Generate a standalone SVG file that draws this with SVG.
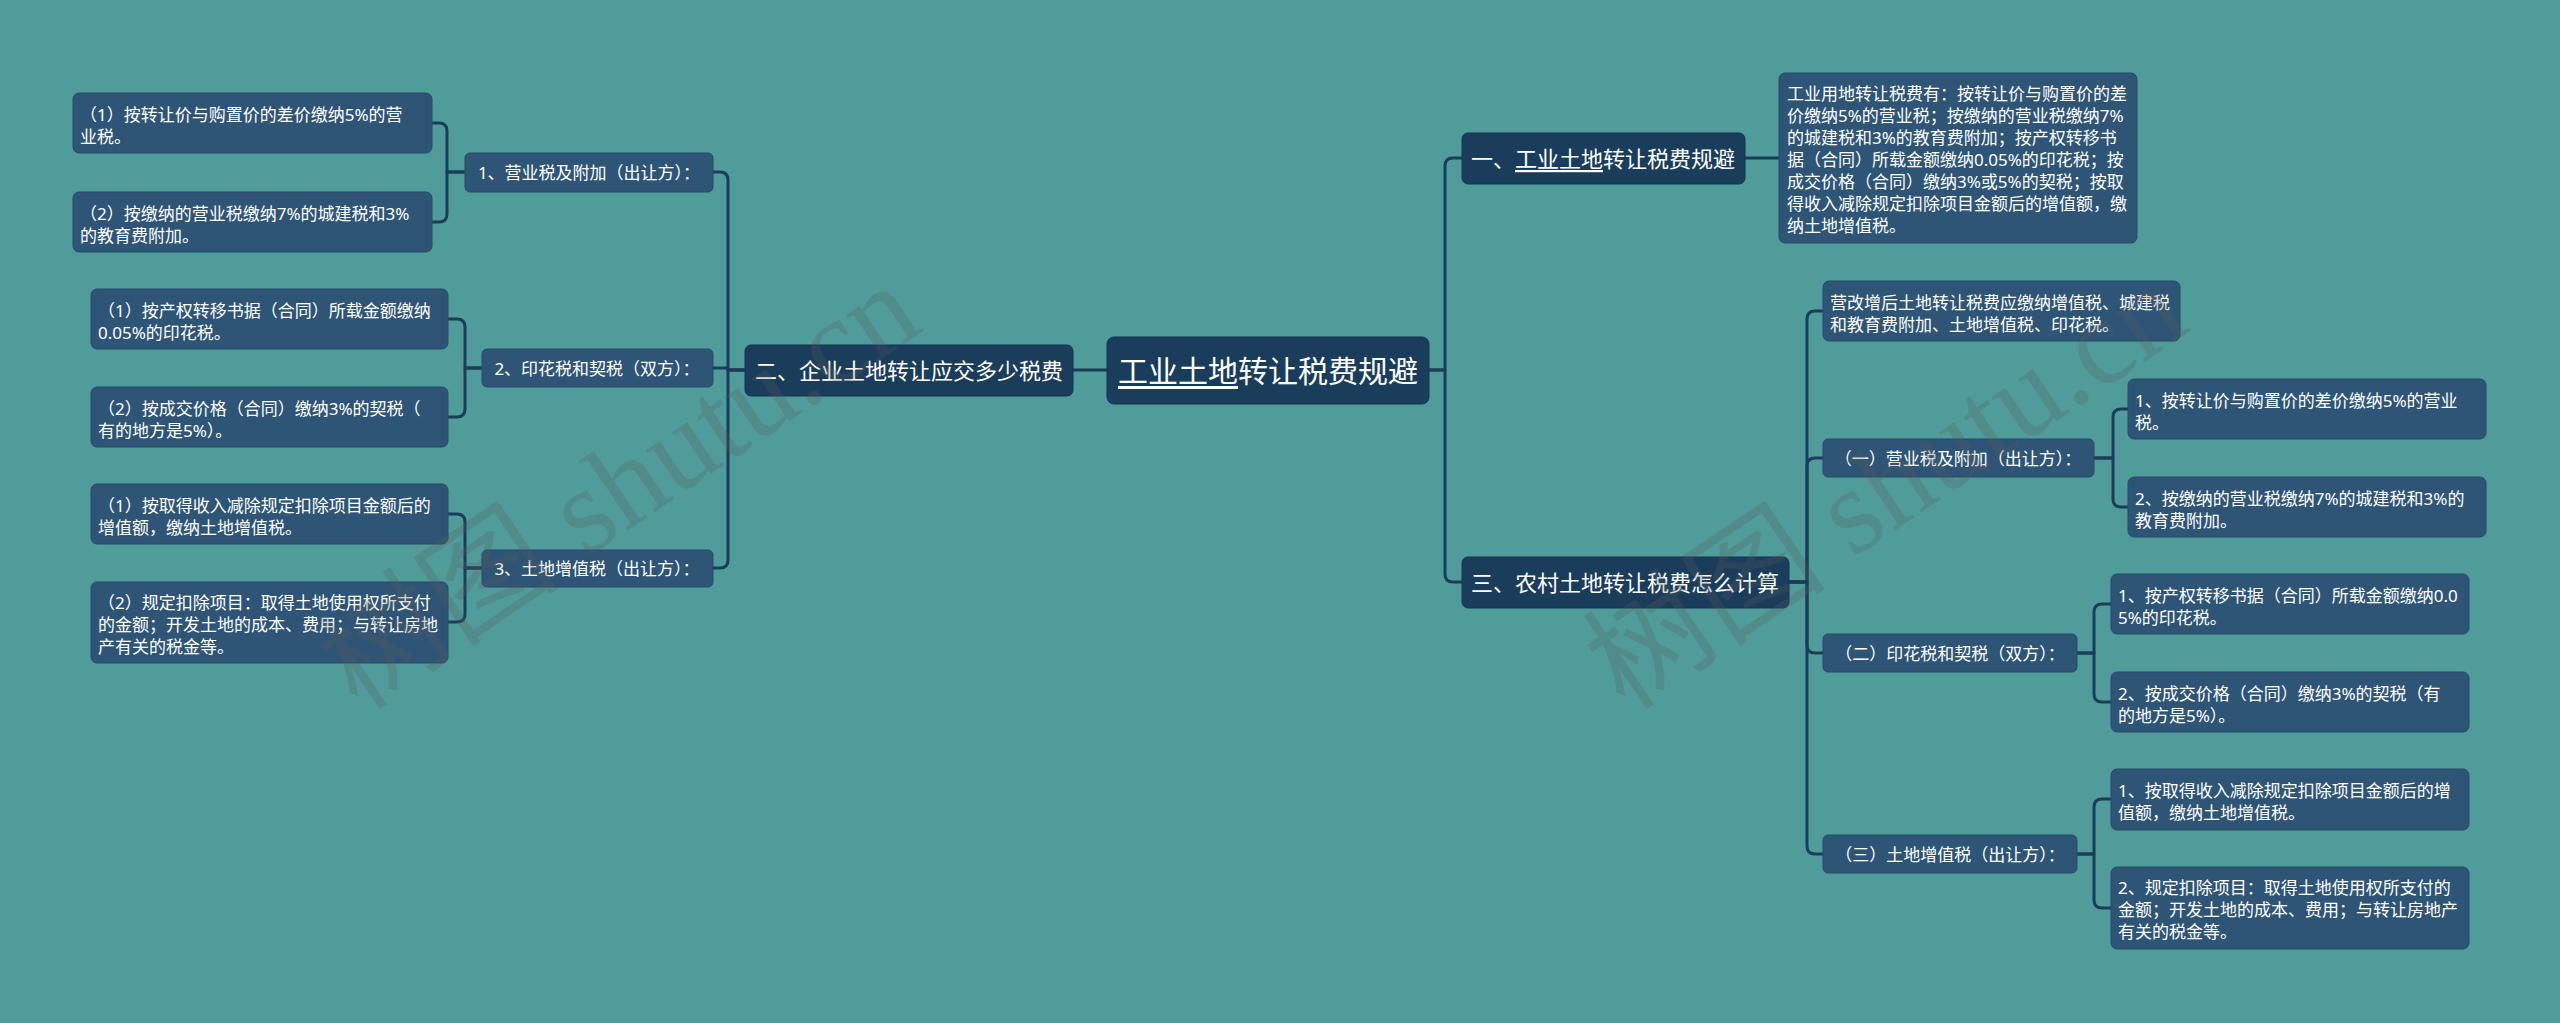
<svg xmlns="http://www.w3.org/2000/svg" width="2560" height="1023" viewBox="0 0 2560 1023">
<style>
.bg{fill:#4f9c9b}
.n0{fill:#1b3d5c;stroke:#173450;stroke-width:1}
.n1{fill:#1b3d5c;stroke:#173450;stroke-width:1}
.n2{fill:#2e5575;stroke:#284b69;stroke-width:1}
.t{font-family:"Noto Sans","Noto Sans CJK SC",sans-serif;fill:#ffffff}
.t0{font-size:30px}
.t1{font-size:22px}
.t2{font-size:17px}
.c{text-anchor:middle;dominant-baseline:central}
.u{text-decoration:underline}
.ln{fill:none;stroke:#1c3d59;stroke-width:3;stroke-linecap:round;stroke-linejoin:round}
.wm{font-family:"Liberation Serif","Noto Sans CJK SC",serif;font-size:122px;fill:#5a5a5a;opacity:0.25}
</style>
<rect class="bg" x="0" y="0" width="2560" height="1023"/>

<g id="connectors">
<path class="ln" d="M465,172 H447 V131 Q447,123 439,123 H432"/>
<path class="ln" d="M465,172 H447 V214 Q447,222 439,222 H432"/>
<path class="ln" d="M482,368 H465 V327 Q465,319 457,319 H448"/>
<path class="ln" d="M482,368 H465 V409 Q465,417 457,417 H448"/>
<path class="ln" d="M482,568 H465 V522 Q465,514 457,514 H448"/>
<path class="ln" d="M482,568 H465 V614 Q465,622 457,622 H448"/>
<path class="ln" d="M745,370 H728 V180 Q728,172 720,172 H713"/>
<path class="ln" d="M745,370 H728 V368 H713"/>
<path class="ln" d="M745,370 H728 V560 Q728,568 720,568 H713"/>
<path class="ln" d="M1073,370 H1107"/>
<path class="ln" d="M1429,370 H1445 V166 Q1445,158 1453,158 H1462"/>
<path class="ln" d="M1429,370 H1445 V574 Q1445,582 1453,582 H1462"/>
<path class="ln" d="M1745,158 H1779"/>
<path class="ln" d="M1789,582 H1807 V319 Q1807,311 1815,311 H1823"/>
<path class="ln" d="M1789,582 H1807 V466 Q1807,458 1815,458 H1823"/>
<path class="ln" d="M1789,582 H1807 V645 Q1807,653 1815,653 H1823"/>
<path class="ln" d="M1789,582 H1807 V846 Q1807,854 1815,854 H1823"/>
<path class="ln" d="M2094,458 H2113 V417 Q2113,409 2121,409 H2128"/>
<path class="ln" d="M2094,458 H2113 V499 Q2113,507 2121,507 H2128"/>
<path class="ln" d="M2077,653 H2094 V612 Q2094,604 2102,604 H2111"/>
<path class="ln" d="M2077,653 H2094 V694 Q2094,702 2102,702 H2111"/>
<path class="ln" d="M2077,854 H2094 V807 Q2094,799 2102,799 H2111"/>
<path class="ln" d="M2077,854 H2094 V900 Q2094,908 2102,908 H2111"/>
</g>

<g id="root">
<rect class="n0" x="1107" y="337" width="322" height="67" rx="7"/>
<text class="t t0 c" x="1268" y="370"><tspan class="u">工业土地</tspan>转让税费规避</text>
</g>

<g id="n-two">
<rect class="n1" x="745" y="345" width="328" height="51" rx="6"/>
<text class="t t1 c" x="909" y="370">二、企业土地转让应交多少税费</text>
</g>

<g id="n-2-1">
<rect class="n2" x="465" y="153" width="248" height="39" rx="5"/>
<text class="t t2 c" x="589" y="172">1、营业税及附加（出让方）：</text>
</g>
<g id="n-2-1-1">
<rect class="n2" x="73" y="93" width="359" height="60" rx="6"/>
<text class="t t2" x="80" y="121">（1）按转让价与购置价的差价缴纳5%的营</text>
<text class="t t2" x="80" y="143">业税。</text>
</g>
<g id="n-2-1-2">
<rect class="n2" x="73" y="192" width="359" height="60" rx="6"/>
<text class="t t2" x="80" y="220">（2）按缴纳的营业税缴纳7%的城建税和3%</text>
<text class="t t2" x="80" y="242">的教育费附加。</text>
</g>

<g id="n-2-2">
<rect class="n2" x="482" y="349" width="231" height="38" rx="5"/>
<text class="t t2 c" x="597" y="368">2、印花税和契税（双方）：</text>
</g>
<g id="n-2-2-1">
<rect class="n2" x="91" y="289" width="357" height="60" rx="6"/>
<text class="t t2" x="98" y="317">（1）按产权转移书据（合同）所载金额缴纳</text>
<text class="t t2" x="98" y="339">0.05%的印花税。</text>
</g>
<g id="n-2-2-2">
<rect class="n2" x="91" y="387" width="357" height="60" rx="6"/>
<text class="t t2" x="98" y="415">（2）按成交价格（合同）缴纳3%的契税（</text>
<text class="t t2" x="98" y="437">有的地方是5%）。</text>
</g>

<g id="n-2-3">
<rect class="n2" x="482" y="550" width="231" height="37" rx="5"/>
<text class="t t2 c" x="597" y="568">3、土地增值税（出让方）：</text>
</g>
<g id="n-2-3-1">
<rect class="n2" x="91" y="484" width="357" height="60" rx="6"/>
<text class="t t2" x="98" y="512">（1）按取得收入减除规定扣除项目金额后的</text>
<text class="t t2" x="98" y="534">增值额，缴纳土地增值税。</text>
</g>
<g id="n-2-3-2">
<rect class="n2" x="91" y="582" width="357" height="81" rx="6"/>
<text class="t t2" x="98" y="609">（2）规定扣除项目：取得土地使用权所支付</text>
<text class="t t2" x="98" y="631">的金额；开发土地的成本、费用；与转让房地</text>
<text class="t t2" x="98" y="653">产有关的税金等。</text>
</g>

<g id="n-one">
<rect class="n1" x="1462" y="133" width="283" height="51" rx="6"/>
<text class="t t1 c" x="1603" y="158">一、<tspan class="u">工业土地</tspan>转让税费规避</text>
</g>
<g id="n-one-1">
<rect class="n2" x="1779" y="73" width="358" height="170" rx="6"/>
<text class="t t2" x="1787" y="100">工业用地转让税费有：按转让价与购置价的差</text>
<text class="t t2" x="1787" y="122">价缴纳5%的营业税；按缴纳的营业税缴纳7%</text>
<text class="t t2" x="1787" y="144">的城建税和3%的教育费附加；按产权转移书</text>
<text class="t t2" x="1787" y="166">据（合同）所载金额缴纳0.05%的印花税；按</text>
<text class="t t2" x="1787" y="188">成交价格（合同）缴纳3%或5%的契税；按取</text>
<text class="t t2" x="1787" y="210">得收入减除规定扣除项目金额后的增值额，缴</text>
<text class="t t2" x="1787" y="232">纳土地增值税。</text>
</g>

<g id="n-three">
<rect class="n1" x="1462" y="557" width="327" height="51" rx="6"/>
<text class="t t1 c" x="1625" y="582">三、农村土地转让税费怎么计算</text>
</g>
<g id="n-three-0">
<rect class="n2" x="1823" y="281" width="357" height="60" rx="6"/>
<text class="t t2" x="1830" y="309">营改增后土地转让税费应缴纳增值税、城建税</text>
<text class="t t2" x="1830" y="331">和教育费附加、土地增值税、印花税。</text>
</g>
<g id="n-three-1">
<rect class="n2" x="1823" y="439" width="271" height="38" rx="5"/>
<text class="t t2 c" x="1958" y="458">（一）营业税及附加（出让方）：</text>
</g>
<g id="n-three-1-1">
<rect class="n2" x="2128" y="379" width="358" height="60" rx="6"/>
<text class="t t2" x="2135" y="407">1、按转让价与购置价的差价缴纳5%的营业</text>
<text class="t t2" x="2135" y="429">税。</text>
</g>
<g id="n-three-1-2">
<rect class="n2" x="2128" y="477" width="358" height="60" rx="6"/>
<text class="t t2" x="2135" y="505">2、按缴纳的营业税缴纳7%的城建税和3%的</text>
<text class="t t2" x="2135" y="527">教育费附加。</text>
</g>
<g id="n-three-2">
<rect class="n2" x="1823" y="634" width="254" height="38" rx="5"/>
<text class="t t2 c" x="1950" y="653">（二）印花税和契税（双方）：</text>
</g>
<g id="n-three-2-1">
<rect class="n2" x="2111" y="574" width="358" height="60" rx="6"/>
<text class="t t2" x="2118" y="602">1、按产权转移书据（合同）所载金额缴纳0.0</text>
<text class="t t2" x="2118" y="624">5%的印花税。</text>
</g>
<g id="n-three-2-2">
<rect class="n2" x="2111" y="672" width="358" height="60" rx="6"/>
<text class="t t2" x="2118" y="700">2、按成交价格（合同）缴纳3%的契税（有</text>
<text class="t t2" x="2118" y="722">的地方是5%）。</text>
</g>
<g id="n-three-3">
<rect class="n2" x="1823" y="835" width="254" height="38" rx="5"/>
<text class="t t2 c" x="1950" y="854">（三）土地增值税（出让方）：</text>
</g>
<g id="n-three-3-1">
<rect class="n2" x="2111" y="769" width="358" height="61" rx="6"/>
<text class="t t2" x="2118" y="797">1、按取得收入减除规定扣除项目金额后的增</text>
<text class="t t2" x="2118" y="819">值额，缴纳土地增值税。</text>
</g>
<g id="n-three-3-2">
<rect class="n2" x="2111" y="867" width="358" height="82" rx="6"/>
<text class="t t2" x="2118" y="894">2、规定扣除项目：取得土地使用权所支付的</text>
<text class="t t2" x="2118" y="916">金额；开发土地的成本、费用；与转让房地产</text>
<text class="t t2" x="2118" y="938">有关的税金等。</text>
</g>

<g id="watermark">
<text class="wm" transform="translate(358,712) rotate(-34)">树图 shutu.cn</text>
<text class="wm" transform="translate(1625,712) rotate(-34)">树图 shutu.cn</text>
</g>
</svg>
